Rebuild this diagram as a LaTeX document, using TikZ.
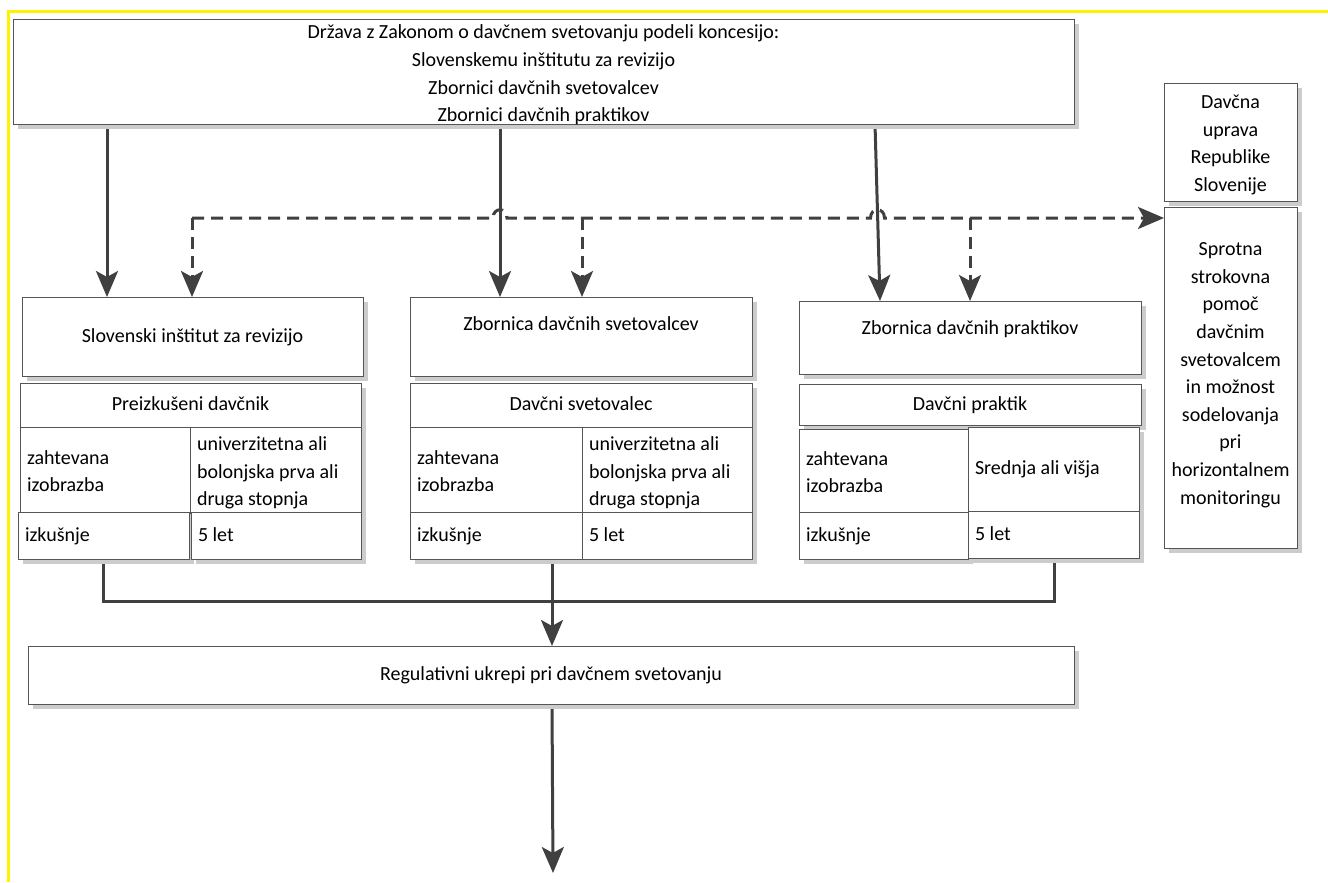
\documentclass[tikz,border=0pt]{standalone}
\usepackage{fontspec}
\setmainfont{Carlito}
\usetikzlibrary{arrows.meta,shadows}
\pgfdeclarelayer{bg}
\pgfsetlayers{bg,main}
\definecolor{conncol}{RGB}{64,64,64}
\definecolor{boxline}{RGB}{85,85,85}
\definecolor{shadowgray}{RGB}{204,204,204}
\newcommand\mylines[2][0bp]{\raisebox{#1}[0pt][0pt]{\begin{tabular}{@{}c@{}}#2\end{tabular}}}
\newcommand\myraise[2]{\raisebox{#1}[0pt][0pt]{#2}}
\tikzset{
  bx/.style={draw=boxline, line width=1bp, fill=white, inner sep=0pt, outer sep=0pt,
    anchor=north west, font=\fontsize{20bp}{27.6bp}\selectfont, align=center,
    execute at begin node=\strut, execute at end node=\strut,
    general shadow={fill=shadowgray, shadow xshift=5bp, shadow yshift=-5bp}},
  ml/.style={execute at begin node={\strut\rule{0pt}{#1}}},
  ml/.default=25bp,
  cell/.style={bx, align=flush left, inner xsep=7bp},
  cline/.style={draw=conncol, line width=3bp},
  conn/.style={cline, -{Stealth[length=26bp,width=22bp,inset=6bp]}},
  dconn/.style={conn, dash pattern=on 12bp off 7bp},
}
\begin{document}
\begin{tikzpicture}[x=1bp,y=-1bp]
\useasboundingbox (0,0) rectangle (1328,882);
% top
\node[bx, minimum width=1061bp, minimum height=105bp] (top) at (13,19)
  {\mylines[-3bp]{Država z Zakonom o davčnem svetovanju podeli koncesijo:\\Slovenskemu inštitutu za revizijo\\Zbornici davčnih svetovalcev\\Zbornici davčnih praktikov}};
% institutions
\node[bx, minimum width=341bp, minimum height=79bp] (sir) at (22,297) {Slovenski inštitut za revizijo};
\node[bx, minimum width=342bp, minimum height=79bp] (zds) at (410,297) {\myraise{12bp}{Zbornica davčnih svetovalcev}};
\node[bx, minimum width=342bp, minimum height=73bp] (zdp) at (799,301) {\myraise{9bp}{Zbornica davčnih praktikov}};
% SIR table
\node[bx, minimum width=341bp, minimum height=44bp] (sirH) at (20,383) {Preizkušeni davčnik};
\node[cell, ml, minimum width=170bp, minimum height=85bp, text width=156bp] (sirA) at (20,427) {zahtevana\\izobrazba};
\node[cell, ml=23.5bp, minimum width=171bp, minimum height=85bp, text width=157bp] (sirB) at (190,427) {univerzitetna ali\\bolonjska prva ali\\druga stopnja};
\node[cell, minimum width=171bp, minimum height=47bp, text width=157bp] (sirC) at (18,512) {izkušnje};
\node[cell, minimum width=170bp, minimum height=47bp, text width=156bp] (sirD) at (191,512) {5 let};
% ZDS table
\node[bx, minimum width=342bp, minimum height=44bp] (zdsH) at (410,383) {Davčni svetovalec};
\node[cell, ml, minimum width=172bp, minimum height=85bp, text width=158bp] (zdsA) at (410,427) {zahtevana\\izobrazba};
\node[cell, ml=23.5bp, minimum width=170bp, minimum height=85bp, text width=156bp] (zdsB) at (582,427) {univerzitetna ali\\bolonjska prva ali\\druga stopnja};
\node[cell, minimum width=172bp, minimum height=47bp, text width=158bp] (zdsC) at (410,512) {izkušnje};
\node[cell, minimum width=170bp, minimum height=47bp, text width=156bp] (zdsD) at (582,512) {5 let};
% ZDP table
\node[bx, minimum width=342bp, minimum height=41bp] (zdpH) at (799,384) {Davčni praktik};
\node[cell, ml, minimum width=169bp, minimum height=83bp, text width=155bp] (zdpA) at (799,429) {zahtevana\\izobrazba};
\node[cell, minimum width=171bp, minimum height=84bp, text width=157bp] (zdpB) at (968,427) {Srednja ali višja};
\node[cell, minimum width=169bp, minimum height=47bp, text width=155bp] (zdpC) at (799,512) {izkušnje};
\node[cell, minimum width=171bp, minimum height=47bp, text width=157bp] (zdpD) at (968,511) {5 let};
% right column
\node[bx, minimum width=133bp, minimum height=118bp] (dur) at (1164,83) {\mylines[-2bp]{Davčna\\uprava\\Republike\\Slovenije}};
\node[bx, minimum width=133bp, minimum height=341bp] (spr) at (1164,207)
  {\mylines[3.5bp]{Sprotna\\strokovna\\pomoč\\davčnim\\svetovalcem\\in možnost\\sodelovanja\\pri\\horizontalnem\\monitoringu}};
% result
\node[bx, minimum width=1046bp, minimum height=58bp] (reg) at (28,646) {Regulativni ukrepi pri davčnem svetovanju};
\coordinate (out) at (553,873);
\coordinate (d0) at (192,218);
\begin{pgfonlayer}{bg}
\fill[white] (0,0) rectangle (1328,882);
\draw[yellow, line width=3bp] (8,882) -- (8,11) -- (1328,11);
\draw[conn] (top.south -| 107,0) -- (sir.north -| 107,0);
\draw[conn] (top.south -| 500,0) -- (zds.north -| 500,0);
\draw[conn] (top.south -| 875,0) -- (zdp.north -| 880,0);
\draw[dconn] (d0) -- (sir.north -| d0);
\draw[dconn] (d0) -- (493,218) .. controls (493,207) and (507,207) .. (507,218)
  -- (870.5,218) .. controls (870.5,207) and (884.5,207) .. (884.5,218) -- (spr.west |- d0);
\draw[dconn] (582,218) -- (zds.north -| 582,0);
\draw[dconn] (970,218) -- (zdp.north -| 970,0);
\draw[cline] (sirC.south -| 103,0) -- (103,601) -- (1054,601) -- (zdpD.south -| 1054,0);
\draw[conn] (zdsC.south -| 552,0) -- (reg.north -| 552,0);
\draw[conn] (reg.south -| 552,0) -- (out);
\end{pgfonlayer}
\end{tikzpicture}
\end{document}
